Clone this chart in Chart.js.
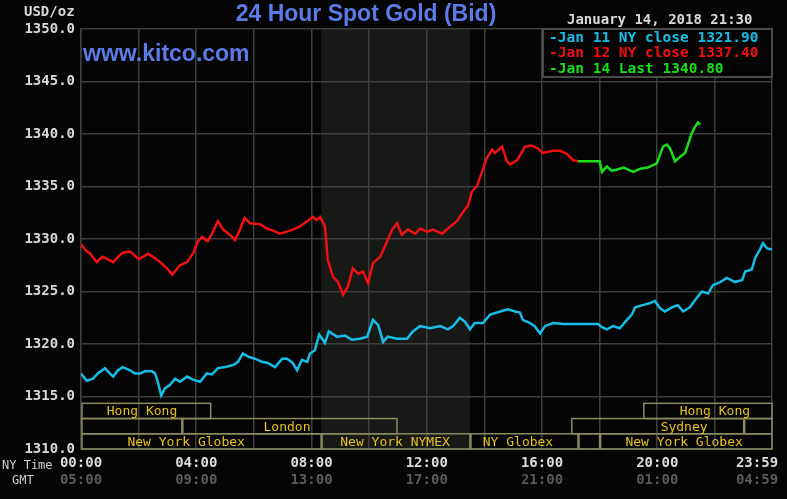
<!DOCTYPE html>
<html lang="en">
<head>
<meta charset="UTF-8">
<title>24 Hour Spot Gold (Bid)</title>
<script src="https://cdn.jsdelivr.net/npm/chart.js"></script>
<style>
  html, body { margin: 0; padding: 0; background: #050505; }
  canvas { display: block; }
</style>
</head>
<body>
<canvas id="goldChart" width="787" height="499"></canvas>
<script>
// times are minutes after 00:00 New York time
const jan11Times = [0, 12, 25, 35, 50, 60, 67, 77, 87, 102, 112, 123, 133, 148, 154, 160, 167, 175, 185, 196, 206, 221, 233, 248, 262, 273, 285, 300, 317, 327, 337, 348, 362, 377, 389, 404, 419, 429, 441, 450, 460, 471, 477, 487, 496, 508, 516, 533, 550, 564, 581, 596, 608, 619, 629, 639, 658, 679, 691, 706, 727, 748, 764, 775, 789, 800, 810, 820, 837, 852, 873, 889, 904, 914, 920, 935, 945, 956, 966, 983, 1004, 1077, 1085, 1095, 1108, 1122, 1137, 1147, 1154, 1170, 1185, 1195, 1206, 1216, 1231, 1243, 1254, 1268, 1279, 1293, 1306, 1316, 1331, 1345, 1362, 1377, 1383, 1397, 1404, 1414, 1420, 1429, 1439];
const jan11Prices = [1317.2, 1316.5, 1316.7, 1317.2, 1317.7, 1317.2, 1316.9, 1317.5, 1317.8, 1317.5, 1317.2, 1317.2, 1317.4, 1317.4, 1317.2, 1316.4, 1315.1, 1315.8, 1316.1, 1316.7, 1316.4, 1316.9, 1316.6, 1316.4, 1317.2, 1317.1, 1317.7, 1317.8, 1318.0, 1318.3, 1319.1, 1318.8, 1318.6, 1318.3, 1318.2, 1317.8, 1318.6, 1318.6, 1318.2, 1317.5, 1318.5, 1318.3, 1319.1, 1319.4, 1320.9, 1320.1, 1321.2, 1320.7, 1320.8, 1320.4, 1320.5, 1320.7, 1322.3, 1321.8, 1320.2, 1320.7, 1320.5, 1320.5, 1321.2, 1321.7, 1321.5, 1321.7, 1321.4, 1321.7, 1322.5, 1322.1, 1321.4, 1322.0, 1322.0, 1322.8, 1323.1, 1323.3, 1323.1, 1323.0, 1322.3, 1322.0, 1321.7, 1321.0, 1321.7, 1322.0, 1321.9, 1321.9, 1321.6, 1321.4, 1321.7, 1321.5, 1322.3, 1322.8, 1323.5, 1323.7, 1323.9, 1324.1, 1323.4, 1323.1, 1323.5, 1323.7, 1323.1, 1323.5, 1324.2, 1325.0, 1324.8, 1325.6, 1325.9, 1326.3, 1325.9, 1326.1, 1326.9, 1327.1, 1328.2, 1329.0, 1329.6, 1329.1, 1329.0];

const jan12Times = [0, 8, 19, 33, 44, 54, 67, 77, 87, 102, 108, 119, 129, 140, 150, 165, 179, 190, 206, 221, 233, 244, 252, 264, 275, 285, 296, 310, 321, 331, 341, 352, 373, 387, 400, 414, 429, 441, 456, 471, 483, 491, 498, 508, 514, 525, 535, 546, 556, 566, 577, 587, 598, 608, 623, 633, 648, 658, 668, 681, 696, 706, 721, 733, 752, 764, 783, 796, 806, 814, 825, 835, 845, 856, 862, 877, 887, 893, 908, 925, 939, 952, 962, 983, 998, 1012, 1025, 1035];
const jan12Prices = [1329.5, 1329.0, 1328.6, 1327.8, 1328.3, 1328.1, 1327.8, 1328.3, 1328.7, 1328.8, 1328.6, 1328.1, 1328.3, 1328.6, 1328.3, 1327.8, 1327.2, 1326.6, 1327.5, 1327.8, 1328.6, 1329.8, 1330.2, 1329.8, 1330.7, 1331.7, 1330.9, 1330.4, 1329.9, 1330.9, 1332.0, 1331.5, 1331.4, 1331.0, 1330.8, 1330.5, 1330.7, 1330.9, 1331.2, 1331.7, 1332.1, 1331.8, 1332.1, 1331.2, 1328.0, 1326.4, 1325.9, 1324.7, 1325.5, 1327.2, 1326.7, 1326.9, 1325.8, 1327.7, 1328.3, 1329.3, 1330.9, 1331.5, 1330.4, 1330.9, 1330.5, 1331.0, 1330.7, 1330.9, 1330.5, 1331.0, 1331.7, 1332.6, 1333.2, 1334.5, 1335.1, 1336.4, 1337.7, 1338.5, 1338.2, 1338.8, 1337.4, 1337.1, 1337.5, 1338.8, 1338.9, 1338.6, 1338.2, 1338.4, 1338.4, 1338.1, 1337.5, 1337.4];

const jan14Times = [1035, 1080, 1085, 1095, 1105, 1115, 1130, 1150, 1165, 1180, 1199, 1212, 1220, 1227, 1237, 1247, 1258, 1264, 1272, 1279, 1285, 1289];
const jan14Prices = [1337.4, 1337.4, 1336.4, 1336.9, 1336.5, 1336.6, 1336.8, 1336.4, 1336.7, 1336.8, 1337.2, 1338.8, 1339.0, 1338.6, 1337.4, 1337.8, 1338.2, 1339.0, 1340.1, 1340.7, 1341.1, 1340.9];

const legendTexts = ['Jan 11 NY close 1321.90', 'Jan 12 NY close 1337.40', 'Jan 14 Last 1340.80'];
const seriesColors = ['#16bde6', '#f01010', '#18e018'];

const labelMinutes = [0, 240, 480, 720, 960, 1200, 1439];
const nyTimeLabels = ['00:00', '04:00', '08:00', '12:00', '16:00', '20:00', '23:59'];
const gmtLabels = ['05:00', '09:00', '13:00', '17:00', '21:00', '01:00', '04:59'];

// NYMEX pit session (shaded)
const nymexOpen = 500;
const nymexClose = 810;

// trading sessions strip: name, start, end, row, centre of the text
const sessionNames = ['Hong Kong', '', 'London', 'New York Globex', 'New York NYMEX', 'NY Globex', '', 'New York Globex', 'Sydney', '', 'Hong Kong'];
const sessionStart = [0, 0, 210, 0, 500, 810, 1035, 1080, 1020, 1380, 1170];
const sessionEnd = [270, 210, 658, 500, 810, 1035, 1080, 1439, 1380, 1439, 1439];
const sessionRow = [0, 1, 1, 2, 2, 2, 2, 2, 1, 1, 0];
const sessionTextAt = [127, 0, 429, 219, 654, 910, 0, 1256, 1256, 0, 1320];

const mono = '"DejaVu Sans Mono", monospace';

function toPoints(times, prices) {
    return times.map((t, i) => ({ x: t, y: prices[i] }));
}

const decorations = {
    id: 'decorations',
    beforeDraw(chart) {
        const { ctx, chartArea: a, scales: { x } } = chart;
        ctx.save();
        ctx.fillStyle = '#050505';
        ctx.fillRect(0, 0, chart.width, chart.height);
        const x0 = x.getPixelForValue(nymexOpen);
        const x1 = x.getPixelForValue(nymexClose);
        ctx.fillStyle = '#171917';
        ctx.fillRect(x0, a.top, x1 - x0, a.bottom - a.top);
        ctx.restore();
    },
    afterDraw(chart) {
        const { ctx, chartArea: a, scales: { x, y } } = chart;
        ctx.save();
        ctx.textBaseline = 'middle';

        // title and watermark
        ctx.fillStyle = '#5a7be8';
        ctx.font = 'bold 23px "Liberation Sans", Arial, sans-serif';
        ctx.textAlign = 'center';
        ctx.fillText('24 Hour Spot Gold (Bid)', 366, 15);
        ctx.textAlign = 'left';
        ctx.fillText('www.kitco.com', 83, 55);

        ctx.fillStyle = '#d8d8d8';
        ctx.font = 'bold 14px ' + mono;
        ctx.fillText('USD/oz', 24, 12);
        ctx.fillText('January 14, 2018 21:30', 567, 20);

        // legend box
        ctx.fillStyle = '#050505';
        ctx.fillRect(543, a.top, a.right - 543, 48);
        ctx.strokeStyle = '#4a4a4a';
        ctx.lineWidth = 2;
        ctx.strokeRect(543, a.top, a.right - 543, 48);
        ctx.font = 'bold 14.5px ' + mono;
        legendTexts.forEach((txt, i) => {
            ctx.fillStyle = seriesColors[i];
            ctx.fillText('-' + txt, 549, 38 + i * 15.5);
        });

        // session strip
        const rowTop = r => y.getPixelForValue(1314.35 - r * 1.45);
        const rowBottom = r => y.getPixelForValue(1312.9 - r * 1.45);
        ctx.font = '13px ' + mono;
        ctx.textAlign = 'center';
        sessionNames.forEach((name, i) => {
            const l = x.getPixelForValue(sessionStart[i]);
            const r = x.getPixelForValue(sessionEnd[i]);
            const t = rowTop(sessionRow[i]);
            const b = rowBottom(sessionRow[i]);
            ctx.strokeStyle = '#8c8a62';
            ctx.lineWidth = 1.5;
            ctx.strokeRect(l + 1, t, r - l - 1, b - t);
            if (name) {
                ctx.fillStyle = '#e6c21c';
                ctx.fillText(name, x.getPixelForValue(sessionTextAt[i]), (t + b) / 2 + 1);
            }
        });

        // time axis, two rows
        ctx.font = 'bold 14px ' + mono;
        labelMinutes.forEach((m, i) => {
            let px = x.getPixelForValue(m);
            if (i === labelMinutes.length - 1) px -= 15;
            ctx.fillStyle = '#dcdcdc';
            ctx.fillText(nyTimeLabels[i], px, 463);
            ctx.fillStyle = '#5a5a5a';
            ctx.fillText(gmtLabels[i], px, 480);
        });
        ctx.textAlign = 'left';
        ctx.font = '12px ' + mono;
        ctx.fillStyle = '#cfcfcf';
        ctx.fillText('NY Time', 2, 466);
        ctx.fillText('GMT', 12, 481);
        ctx.restore();
    }
};

const ctx = document.getElementById('goldChart').getContext('2d');
const lineStyle = { borderWidth: 2.5, pointRadius: 0, tension: 0, fill: false };

new Chart(ctx, {
    type: 'line',
    data: {
        datasets: [
            Object.assign({ label: legendTexts[0], data: toPoints(jan11Times, jan11Prices), borderColor: seriesColors[0] }, lineStyle),
            Object.assign({ label: legendTexts[1], data: toPoints(jan12Times, jan12Prices), borderColor: seriesColors[1] }, lineStyle),
            Object.assign({ label: legendTexts[2], data: toPoints(jan14Times, jan14Prices), borderColor: seriesColors[2] }, lineStyle)
        ]
    },
    options: {
        responsive: false,
        animation: false,
        events: [],
        layout: { padding: { top: 29, right: 15, left: 0, bottom: 0 } },
        plugins: { legend: { display: false }, title: { display: false }, tooltip: { enabled: false } },
        scales: {
            x: {
                type: 'linear',
                min: 0,
                max: 1439,
                afterBuildTicks: s => { s.ticks = [0, 120, 240, 360, 480, 600, 720, 840, 960, 1080, 1200, 1320, 1439].map(v => ({ value: v })); },
                afterFit: s => { s.height = 50; },
                ticks: { display: false },
                grid: { color: '#3e3e3e', lineWidth: 1.5, drawTicks: false },
                border: { color: '#3e3e3e', width: 1.5 }
            },
            y: {
                min: 1310,
                max: 1350,
                afterFit: s => { s.width = 81; },
                ticks: {
                    stepSize: 5,
                    padding: 6,
                    color: '#d8d8d8',
                    font: { family: mono, size: 14, weight: 'bold' },
                    callback: v => v.toFixed(1)
                },
                grid: { color: '#3e3e3e', lineWidth: 1.5, drawTicks: false },
                border: { color: '#3e3e3e', width: 1.5 }
            }
        }
    },
    plugins: [decorations]
});
</script>
</body>
</html>
